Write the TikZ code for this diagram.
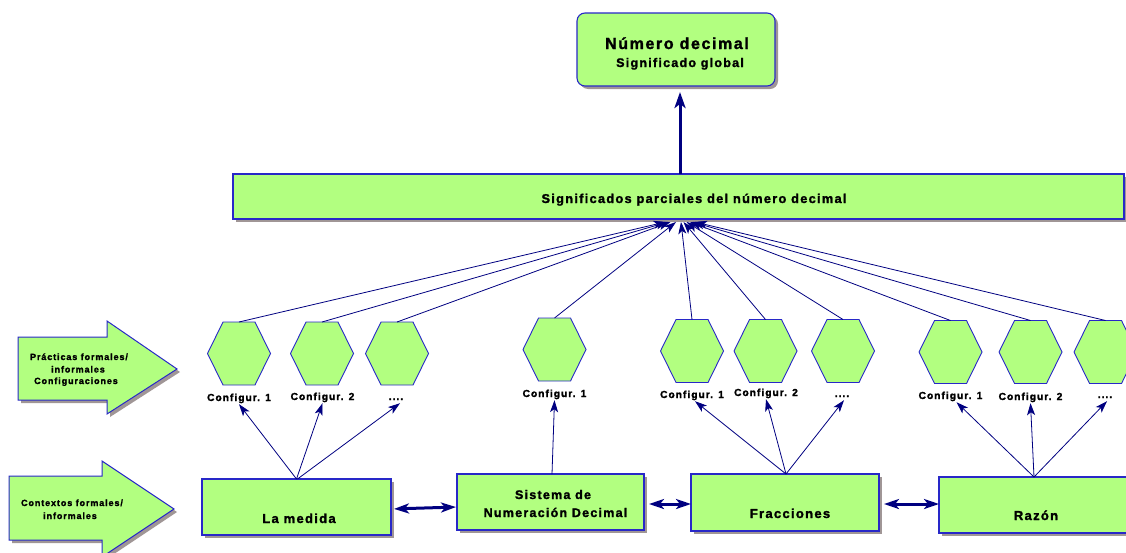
\documentclass[tikz,border=0pt]{standalone}
\usepackage{fontspec}
\setmainfont{Liberation Sans}[LetterSpace=10,BoldFeatures={FakeBold=1.6}]
\usetikzlibrary{arrows.meta,shadows}
\definecolor{fillg}{RGB}{178,255,128}
\definecolor{edgeb}{RGB}{40,40,200}
\definecolor{navy}{RGB}{0,0,128}
\definecolor{shad}{RGB}{160,150,150}
\newcommand\fs[1]{\fontsize{#1}{#1}\selectfont\bfseries}
\newcommand\hexat[3]{%
  \node[hexn] (#1) at (#2,#3) {};
  \draw[hexline] (#1.west) -- ([xshift=-16pt]#1.north) -- ([xshift=16pt]#1.north)
    -- (#1.east) -- ([xshift=16pt]#1.south) -- ([xshift=-16pt]#1.south) -- cycle;
}
\begin{document}
\begin{tikzpicture}[x=1pt,y=-1pt,
  shd/.style={drop shadow={shadow xshift=3pt,shadow yshift=-3pt,fill=shad,opacity=1}},
  box/.style={draw=edgeb,fill=fillg,line width=1.1pt,inner sep=0pt,outer sep=0pt,shd},
  hexn/.style={minimum width=63pt,minimum height=63pt,inner sep=0pt,outer sep=0pt},
  hexline/.style={draw=edgeb,fill=fillg,line width=0.9pt,line join=miter},
  blk/.style={draw=edgeb,fill=fillg,line width=1pt,shd},
  txt/.style={anchor=base,inner sep=0pt,text=black},
  cfg/.style={anchor=base,inner sep=1pt,text depth=2pt,font=\fs{10.2}},
  conn/.style={draw=navy,line width=0.8pt,-{Stealth[length=12pt,width=8pt,inset=3pt]}},
  dbl/.style={draw=navy,line width=3pt,{Stealth[length=15pt,width=10pt,inset=4pt]}-{Stealth[length=15pt,width=10pt,inset=4pt]}},
  vert/.style={draw=navy,line width=3pt,-{Stealth[length=16pt,width=11pt,inset=4pt]}}
]
\useasboundingbox (0,0) rectangle (1126,552);
\clip (0,0) rectangle (1126,552);

% top boxes
\node[box,rounded corners=8pt,minimum width=198pt,minimum height=73pt] (num) at (676,49.5) {};
\node[txt,font=\fs{16}] (numA) at (677,49) {Número decimal};
\node[txt,font=\fs{12.5}] (numB) at (680,67) {Significado global};

\node[box,minimum width=891pt,minimum height=45pt] (sig) at (678.5,196.5) {};
\node[txt,font=\fs{12.8}] (sigT) at (694,203) {Significados parciales del número decimal};

% bottom boxes
\node[box,minimum width=189pt,minimum height=56pt] (med) at (296.5,507) {};
\node[txt,font=\fs{13}] (medT) at (299,523) {La medida};
\node[box,minimum width=187pt,minimum height=56pt] (snd) at (550.5,502) {};
\node[txt,font=\fs{12.5}] (sndA) at (553,499) {Sistema de};
\node[txt,font=\fs{12.5}] (sndB) at (555.5,517) {Numeración Decimal};
\node[box,minimum width=188pt,minimum height=57pt] (frac) at (785,502.5) {};
\node[txt,font=\fs{13}] (fracT) at (790,518) {Fracciones};
\node[box,minimum width=194pt,minimum height=56pt] (raz) at (1036,505) {};
\node[txt,font=\fs{13}] (razT) at (1036,520) {Razón};

% block arrows
\draw[blk] (18,337) -- (107,337) -- (107,321) -- (177,369) -- (107,414) -- (107,400) -- (18,400) -- cycle;
\node[txt,font=\fs{9}] (prA) at (79,360) {Prácticas formales/};
\node[txt,font=\fs{9}] (prB) at (78,372.5) {informales};
\node[txt,font=\fs{9}] (prC) at (76,384) {Configuraciones};
\draw[blk] (9,476) -- (102,476) -- (102,461) -- (174,509) -- (102,557) -- (102,540) -- (9,540) -- cycle;
\node[txt,font=\fs{9}] (coA) at (72,506) {Contextos formales/};
\node[txt,font=\fs{9}] (coB) at (70,519) {informales};

% hexagons
\hexat{h1}{239}{353.5}
\hexat{h2}{322}{353.5}
\hexat{h3}{397}{353.5}
\hexat{h4}{554.5}{349.5}
\hexat{h5}{692}{351}
\hexat{h6}{765.5}{351}
\hexat{h7}{843}{351}
\hexat{h8}{950.5}{352}
\hexat{h9}{1030.5}{352}
\hexat{h10}{1105.5}{352}

% configuration labels
\node[cfg] (c1) at (239,401) {Configur. 1};
\node[cfg] (c2) at (322.5,400) {Configur. 2};
\node[cfg] (c3) at (396,400) {....};
\node[cfg] (c4) at (554.5,397) {Configur. 1};
\node[cfg] (c5) at (692,398) {Configur. 1};
\node[cfg] (c6) at (766,396) {Configur. 2};
\node[cfg] (c7) at (842,397) {....};
\node[cfg] (c8) at (950.5,399) {Configur. 1};
\node[cfg] (c9) at (1030.5,400) {Configur. 2};
\node[cfg] (c10) at (1105,398) {....};

% arrows from contexts to configurations
\draw[conn] (med.north) -- (c1.south);
\draw[conn] (med.north) -- (c2.south);
\draw[conn] ([xshift=1pt]med.north) -- ([xshift=4pt]c3.south);
\draw[conn] ([xshift=1.5pt]snd.north) -- (c4.south);
\draw[conn] ([xshift=1pt]frac.north) -- ([xshift=3pt]c5.south);
\draw[conn] ([xshift=1pt]frac.north) -- (c6.south);
\draw[conn] ([xshift=1pt]frac.north) -- ([xshift=2pt]c7.south);
\draw[conn] ([xshift=-2pt]raz.north) -- ([xshift=6pt]c8.south);
\draw[conn] ([xshift=-2pt]raz.north) -- (c9.south);
\draw[conn] ([xshift=-2pt]raz.north) -- ([xshift=2pt]c10.south);

% arrows from configurations to partial meanings
\foreach \h/\dx in {h1/-13,h2/-10.5,h3/-8,h4/-2.5,h5/2.5,h6/5,h7/8,h8/11.5,h9/14,h10/16.5}{
  \coordinate (t\h) at ([xshift=\dx pt,yshift=-3pt]sig.south);
  \draw[conn] (\h.north) -- (t\h);
}

% double arrows between contexts
\draw[dbl,shorten <=3pt,shorten >=1pt] ([yshift=-2pt]med.east) -- ([yshift=-5pt]snd.west);
\draw[dbl,shorten <=5pt,shorten >=0pt] ([yshift=-2pt]snd.east) -- ([yshift=-1.5pt]frac.west);
\draw[dbl,shorten <=5pt,shorten >=0pt] ([yshift=-1.5pt]frac.east) -- ([yshift=1pt]raz.west);

% to global meaning
\coordinate (vt) at ([xshift=4pt,yshift=-6pt]num.south);
\draw[vert] ([xshift=1.5pt]sig.north) -- (vt);
\end{tikzpicture}
\end{document}
